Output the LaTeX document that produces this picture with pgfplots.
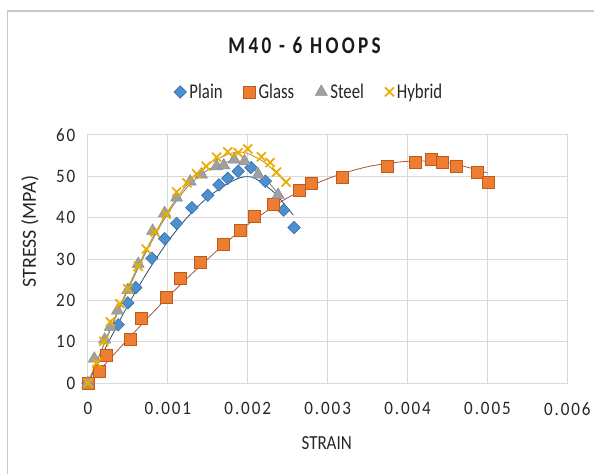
\documentclass[border=0pt]{standalone}
\usepackage{fontspec}
\setmainfont{Carlito}
\newfontfamily\tickfont[LetterSpace=10,FakeStretch=0.9]{Carlito}
\newfontfamily\labfont[FakeStretch=0.85]{Carlito}
\newfontfamily\titlefont[LetterSpace=14,FakeStretch=0.8]{Carlito}
\newfontfamily\legfont[FakeStretch=0.8]{Carlito}
\usepackage{pgfplots}
\pgfplotsset{compat=1.18}
\definecolor{gridc}{HTML}{D9D9D9}
\definecolor{framec}{HTML}{C8C8C8}
\definecolor{plainc}{HTML}{4E8FCF}
\definecolor{plainbd}{HTML}{3A6EA5}
\definecolor{plaintr}{HTML}{1F4E79}
\definecolor{glassc}{HTML}{ED7D31}
\definecolor{glassbd}{HTML}{C05A18}
\definecolor{glasstr}{HTML}{B0503A}
\definecolor{steelc}{HTML}{A0A0A0}
\definecolor{steelbd}{HTML}{8C8C8C}
\definecolor{steeltr}{HTML}{7F7F7F}
\definecolor{hybc}{HTML}{EBAE00}
\definecolor{hybtr}{HTML}{BF9000}
\begin{document}
\begin{tikzpicture}
\begin{axis}[
  scale only axis, width=480pt, height=248.5pt,
  xmin=0, xmax=0.006, ymin=0, ymax=60,
  xtick={0,0.001,0.002,0.003,0.004,0.005,0.006},
  xticklabels={0,0.001,0.002,0.003,0.004,0.005,0.006},
  ytick={0,10,20,30,40,50,60},
  yticklabels={0,10,20,30,40,50,60},
  scaled x ticks=false,
  major tick length=0pt, tick style={draw=none},
  grid=major, grid style={draw=gridc, line width=0.9pt},
  axis line style={draw=gridc, line width=0.9pt},
  xticklabel style={font=\fontsize{19}{21}\tickfont, text=black!85, anchor=north, yshift=-16pt},
  yticklabel style={font=\fontsize{19}{21}\tickfont, text=black!85, anchor=east, xshift=-9pt},
  clip=false,
  legend columns=4,
  legend style={at={(rel axis cs:0.4625,1.173)}, anchor=center, draw=none, fill=none,
    font=\fontsize{21}{24}\legfont, text=black!85,
    /tikz/every even column/.append style={column sep=18pt},
    /tikz/every odd column/.append style={column sep=0pt},
    nodes={inner xsep=3pt}},
]
% trendlines
\addplot[forget plot, plaintr, line width=0.8pt, smooth] coordinates {
(0,0) (0.00025,9.6) (0.0005,18.8) (0.00075,27) (0.001,34.2) (0.00125,40.2)
(0.0015,44.9) (0.00175,48.2) (0.0019,49.6) (0.002,49.9) (0.0021,49.4)
(0.0023,46.6) (0.0024,44.6) (0.00257,40.6)};
\addplot[forget plot, glasstr, line width=0.8pt, smooth] coordinates {
(0,0) (0.0005,10.6) (0.001,20.8) (0.0015,30) (0.002,38.3) (0.0025,44.8)
(0.003,49.4) (0.0035,52.3) (0.004,53.6) (0.0045,53.3) (0.005,50.8)};
\addplot[forget plot, steeltr, line width=0.8pt, smooth] coordinates {
(0,0) (0.00025,11.5) (0.0005,22.5) (0.00075,32.5) (0.001,41) (0.00125,47.5)
(0.0015,51.5) (0.00175,53.5) (0.0019,53.6) (0.002,52.6) (0.0022,49.8) (0.0024,45.3)};
\addplot[forget plot, hybtr, line width=0.8pt, smooth] coordinates {
(0,0) (0.00025,11.8) (0.0005,23) (0.00075,33) (0.001,41.5) (0.00125,48.2)
(0.0015,52.8) (0.00175,55.3) (0.0019,55.8) (0.002,55.5) (0.0022,53.5) (0.0024,50) (0.00248,48.3)};
% Plain
\addplot[only marks, mark=square*, mark size=4.4pt,
  mark options={rotate=45, fill=plainc, draw=plainbd, line width=0.6pt}] coordinates {
(0,0) (0.00038,14.1) (0.0005,19.4) (0.0006,23.1) (0.0008,30.2) (0.00096,34.9)
(0.00111,38.6) (0.0013,42.4) (0.0015,45.4) (0.00164,47.9) (0.00175,49.5)
(0.00188,51.2) (0.00204,52.1) (0.00222,48.8) (0.00245,41.8) (0.00258,37.6)};
\addlegendentry{Plain}
% Glass
\addplot[only marks, mark=square*, mark size=6pt,
  mark options={fill=glassc, draw=glassbd, line width=0.6pt}] coordinates {
(0,0) (0.000142,2.9) (0.000233,6.7) (0.000533,10.7) (0.000663,15.6) (0.000983,20.7)
(0.00116,25.4) (0.00141,29.2) (0.0017,33.5) (0.00191,36.9) (0.00208,40.4)
(0.00232,43.1) (0.00265,46.6) (0.0028,48.3) (0.00318,49.8) (0.00375,52.4)
(0.0041,53.4) (0.0043,54.1) (0.00443,53.4) (0.00461,52.4) (0.00487,51.0) (0.00501,48.6)};
\addlegendentry{Glass}
% Steel
\addplot[only marks, mark=triangle*, mark size=7pt,
  mark options={fill=steelc, draw=steelbd, line width=0.5pt}] coordinates {
(0,0) (0.00008,5.9) (0.00021,10.5) (0.00028,13.6) (0.00037,17.5) (0.0005,22.5)
(0.00063,28.8) (0.00081,36.8) (0.00096,41.1) (0.00111,44.8) (0.00128,48.7)
(0.00142,50.4) (0.00161,52.4) (0.0017,52.6) (0.00183,54) (0.00196,53.6)
(0.00213,50.4) (0.00238,45.5)};
\addlegendentry{Steel}
% Hybrid
\addplot[only marks, mark=x, mark size=6.3pt,
  mark options={draw=hybc, line width=1.8pt}] coordinates {
(0,0) (0.00011,4.9) (0.0002,10.1) (0.00028,14.8) (0.0004,19.2) (0.0005,22.8)
(0.00063,28.2) (0.00073,32.4) (0.00084,36.5) (0.00098,40.8) (0.00111,46.2)
(0.00124,48.4) (0.00136,50.6) (0.00148,52.4) (0.00161,54.6) (0.00175,55.9)
(0.00188,55.7) (0.002,56.6) (0.00217,54.7) (0.00228,53.3) (0.00236,51) (0.00248,48.6)};
\addlegendentry{Hybrid}
% titles and frame
\node[font=\fontsize{24}{27}\titlefont\bfseries, text=black!90] at (rel axis cs:0.452,1.362) {M40 - 6 HOOPS};
\node[rotate=90, font=\fontsize{20}{22}\selectfont, text=black!85] at (rel axis cs:-0.121,0.61) {STRESS (MPA)};
\node[font=\fontsize{20}{22}\labfont, text=black!85] at (rel axis cs:0.498,-0.243) {STRAIN};
\draw[framec, line width=1.3pt] (rel axis cs:-0.1677,-0.3642) -- (rel axis cs:-0.1677,1.499) -- (rel axis cs:1.05625,1.499);
\path (rel axis cs:-0.18333,-0.3642) rectangle (rel axis cs:1.05625,1.5433);
\end{axis}
\end{tikzpicture}
\end{document}
